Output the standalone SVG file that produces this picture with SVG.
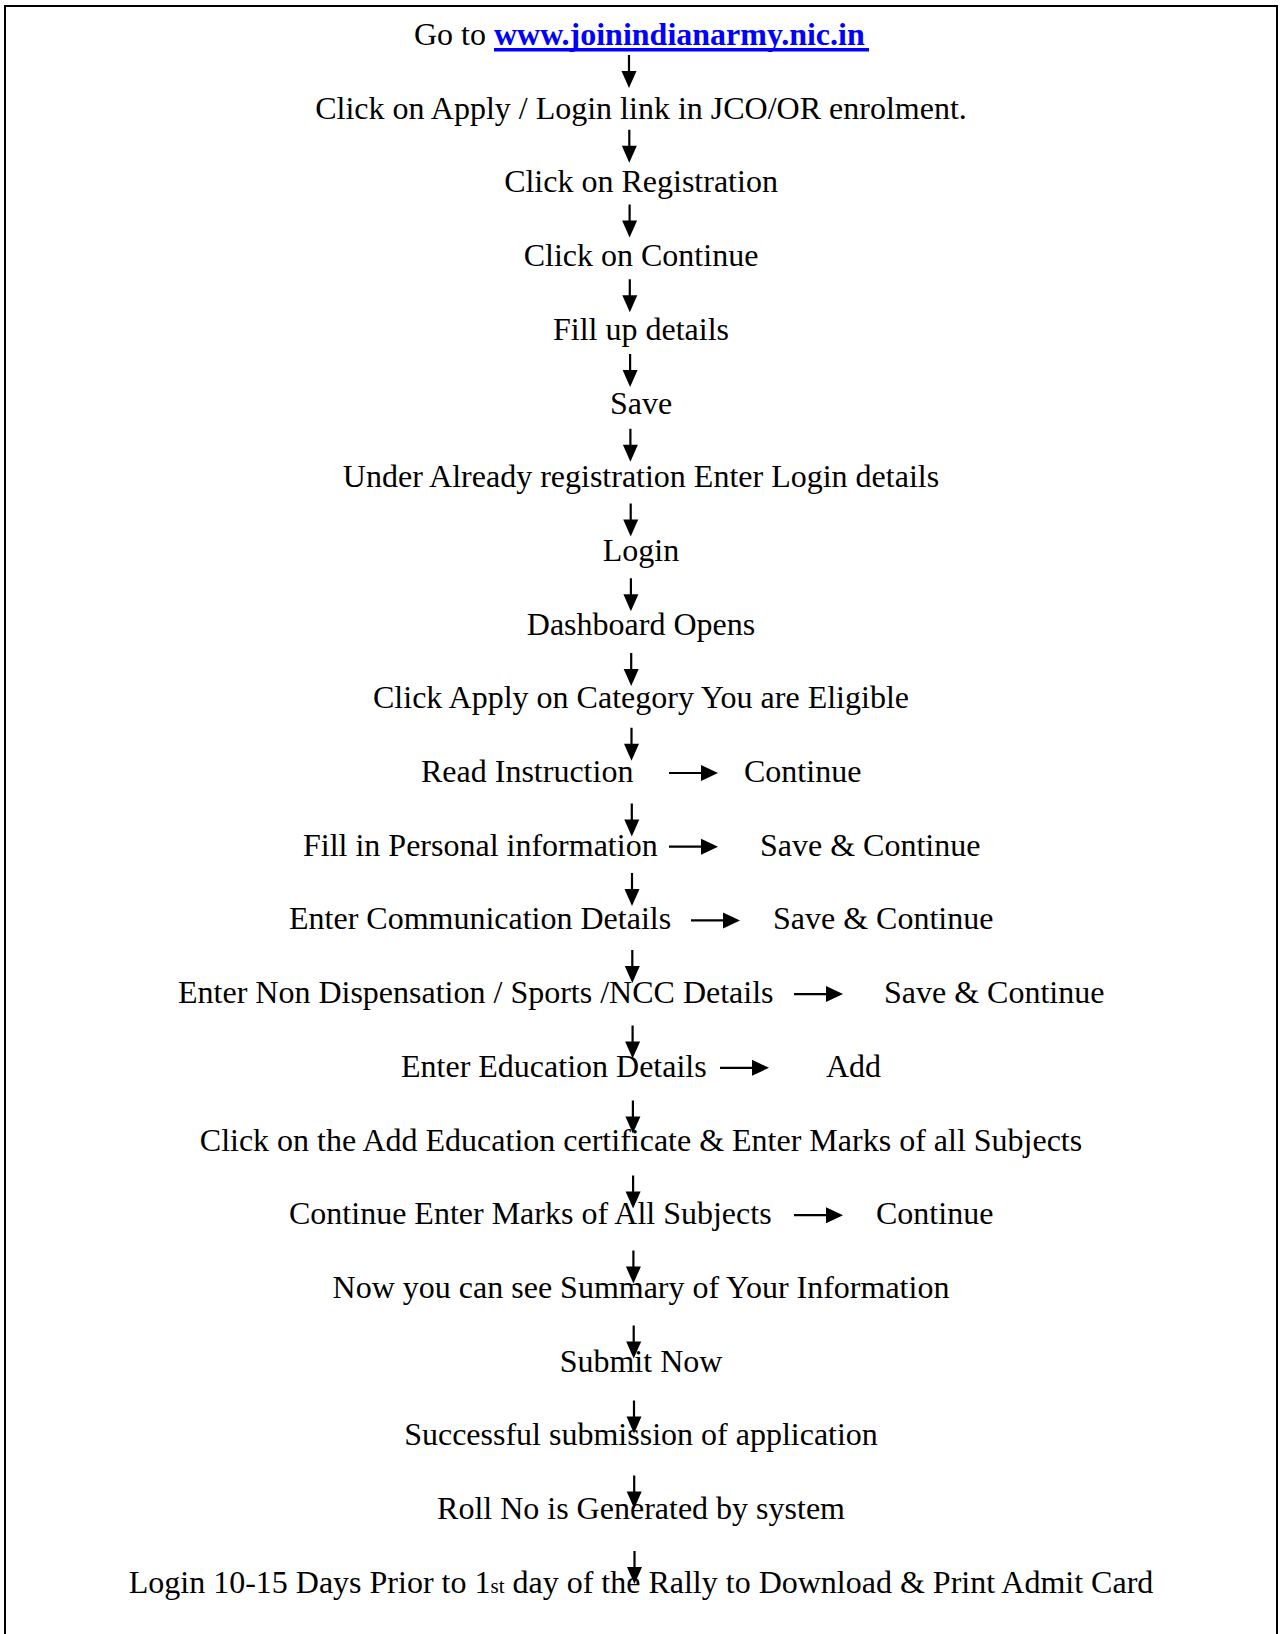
<svg xmlns="http://www.w3.org/2000/svg" width="1288" height="1634" viewBox="0 0 1288 1634">
<style>
text{font-family:"Liberation Serif","Times New Roman",serif;font-size:32px;fill:#000}
.c{text-anchor:middle}
.link{font-weight:bold;fill:#0000FF}
.ln{stroke:#000;stroke-width:2.2;fill:none}
.hd{fill:#000}
</style>
<defs>
<g id="va"><line class="ln" x1="0" y1="0" x2="0" y2="19"/><polygon class="hd" points="-7.5,16 7.5,16 0,33"/></g>
<g id="ha"><line class="ln" x1="0" y1="0" x2="34" y2="0"/><polygon class="hd" points="32,-8 32,8 49,0"/></g>
</defs>
<rect x="5" y="6" width="1272" height="1700" fill="none" stroke="#000" stroke-width="2"/>
<g id="n1"><text x="414" y="45">Go to <tspan class="link">www.joinindianarmy.nic.in</tspan></text><rect x="494" y="48" width="375" height="3.5" fill="#0000FF"/></g>
<g id="n2"><text class="c" x="641" y="118.7">Click on Apply / Login link in JCO/OR enrolment.</text></g>
<g id="n3"><text class="c" x="641" y="192.4">Click on Registration</text></g>
<g id="n4"><text class="c" x="641" y="266.1">Click on Continue</text></g>
<g id="n5"><text class="c" x="641" y="339.8">Fill up details</text></g>
<g id="n6"><text class="c" x="641" y="413.5">Save</text></g>
<g id="n7"><text class="c" x="641" y="487.2">Under Already registration Enter Login details</text></g>
<g id="n8"><text class="c" x="641" y="560.9">Login</text></g>
<g id="n9"><text class="c" x="641" y="634.6">Dashboard Opens</text></g>
<g id="n10"><text class="c" x="641" y="708.3">Click Apply on Category You are Eligible</text></g>
<g id="n11"><text x="421" y="782">Read Instruction</text><text x="744" y="782">Continue</text></g>
<g id="n12"><text x="303" y="855.7">Fill in Personal information</text><text x="760" y="855.7">Save &amp; Continue</text></g>
<g id="n13"><text x="289" y="929.4">Enter Communication Details</text><text x="773" y="929.4">Save &amp; Continue</text></g>
<g id="n14"><text x="178" y="1003.1">Enter Non Dispensation / Sports /NCC Details</text><text x="884" y="1003.1">Save &amp; Continue</text></g>
<g id="n15"><text x="401" y="1076.8">Enter Education Details</text><text x="826" y="1076.8">Add</text></g>
<g id="n16"><text class="c" x="641" y="1150.5">Click on the Add Education certificate &amp; Enter Marks of all Subjects</text></g>
<g id="n17"><text x="289" y="1224.2">Continue Enter Marks of All Subjects</text><text x="876" y="1224.2">Continue</text></g>
<g id="n18"><text class="c" x="641" y="1297.9">Now you can see Summary of Your Information</text></g>
<g id="n19"><text class="c" x="641" y="1371.6">Submit Now</text></g>
<g id="n20"><text class="c" x="641" y="1445.3">Successful submission of application</text></g>
<g id="n21"><text class="c" x="641" y="1519">Roll No is Generated by system</text></g>
<g id="n22"><text class="c" x="641" y="1592.7">Login 10-15 Days Prior to 1<tspan font-size="21">st</tspan> day of the Rally to Download &amp; Print Admit Card</text></g>
<g id="connectors">
<use href="#va" x="629" y="55"/>
<use href="#va" x="629.3" y="129.75"/>
<use href="#va" x="629.6" y="204.5"/>
<use href="#va" x="629.8" y="279.25"/>
<use href="#va" x="630.1" y="354"/>
<use href="#va" x="630.4" y="428.75"/>
<use href="#va" x="630.7" y="503.5"/>
<use href="#va" x="630.9" y="578.25"/>
<use href="#va" x="631.2" y="653"/>
<use href="#va" x="631.5" y="727.75"/>
<use href="#va" x="631.8" y="803.5"/>
<use href="#va" x="632" y="873"/>
<use href="#va" x="632.3" y="950"/>
<use href="#va" x="632.6" y="1025.5"/>
<use href="#va" x="632.9" y="1100.5"/>
<use href="#va" x="633.1" y="1175.5"/>
<use href="#va" x="633.4" y="1250.5"/>
<use href="#va" x="633.7" y="1325.5"/>
<use href="#va" x="634" y="1400.5"/>
<use href="#va" x="634.2" y="1475.5"/>
<use href="#va" x="634.5" y="1551"/>
<use href="#ha" x="669" y="773"/>
<use href="#ha" x="669" y="846.7"/>
<use href="#ha" x="691" y="920.4"/>
<use href="#ha" x="794" y="994.1"/>
<use href="#ha" x="720" y="1067.8"/>
<use href="#ha" x="794" y="1215.2"/>
</g>
</svg>
